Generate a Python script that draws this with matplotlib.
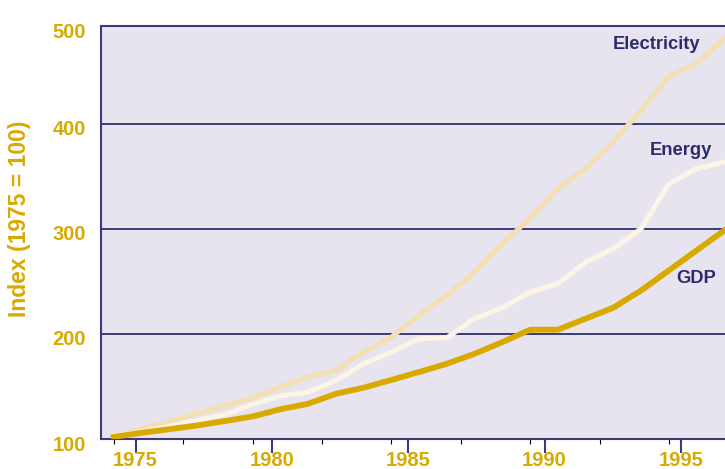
import numpy as np
import matplotlib
matplotlib.use("Agg")
import matplotlib.pyplot as plt
from matplotlib.transforms import ScaledTranslation

# Index values (1975 = 100), one point per year
years = list(range(1975, 1998))
gdp = [102, 105.9, 109.3, 112.9, 117.1, 121.4, 128.3, 133.5, 143, 148.8, 156.2, 163.8,
       171.6, 181.1, 192.2, 204, 204, 214.5, 225, 241.4, 260.5, 279.5, 298.6]
electricity = [103, 110, 116.7, 124.3, 131.4, 139, 149.3, 158.9, 165.2, 182.7, 197, 217.6,
               236.7, 258.9, 286, 310, 338.3, 357.3, 382.9, 412.9, 445.2, 457.3, 481.1]
energy = [103, 107, 112, 117.6, 123.3, 132.9, 141, 144.6, 155.7, 171.6, 182.7, 195.4,
          196.4, 214.5, 225, 239.8, 247.8, 268.4, 281.1, 300.2, 343, 357.3, 363.6]

tick_years = [1975, 1980, 1985, 1990, 1995]
y_ticks = [100, 200, 300, 400, 493]
y_labels = ["100", "200", "300", "400", "500"]

gold = "#D8AA00"
navy = "#2C2C6C"
grid_col = "#3A3B78"

fig = plt.figure(figsize=(7.25, 4.69), dpi=100)
ax = fig.add_axes([101 / 725, 1 - 439 / 469, 624 / 725, 413 / 469])
ax.set_facecolor("#E7E4EF")

ax.plot(years, electricity, color="#F3DFB3", lw=3.6, zorder=3)
ax.plot(years, energy, color="#FBF4E7", lw=3.6, zorder=4)
ax.plot(years, gdp, color=gold, lw=4.2, zorder=5)

ax.set_xlim(1974.54, 1997.02)
ax.set_ylim(100, 493)
ax.tick_params(axis="x", bottom=False, labelbottom=False)

ax.set_yticks(y_ticks)
ax.set_yticklabels(y_labels)
ax.tick_params(axis="y", length=0, pad=11, labelcolor=gold, labelsize=14.5)
for lbl in ax.get_yticklabels():
    lbl.set_fontweight("bold")
    lbl.set_fontfamily("Liberation Sans")
    lbl.set_transform(lbl.get_transform() + ScaledTranslation(0, -4 / 100, fig.dpi_scale_trans))
ax.grid(axis="y", color=grid_col, lw=1.4, zorder=1)
ax.set_axisbelow(True)

for side in ["left", "bottom", "top"]:
    ax.spines[side].set_color(grid_col)
    ax.spines[side].set_linewidth(1.5)
ax.spines["right"].set_visible(False)

# year ticks on their own scale
ax2 = ax.twiny()
ax2.set_xlim(1973.73, 1996.62)
ax2.xaxis.set_ticks_position("bottom")
ax2.set_xticks(tick_years)
ax2.tick_params(axis="x", length=10, width=1.5, color=grid_col, pad=-1.5,
                labelcolor=gold, labelsize=14.5)
for lbl in ax2.get_xticklabels():
    lbl.set_fontweight("bold")
    lbl.set_fontfamily("Liberation Sans")
for s in ax2.spines.values():
    s.set_visible(False)

lab_font = dict(color=navy, fontsize=13.2, fontweight="bold", family="Liberation Sans",
                transform=ax.transAxes, va="baseline", ha="left", zorder=6)
ax.text(0.8205, 0.944, "Electricity", **lab_font)
ax.text(0.8798, 0.6877, "Energy", **lab_font)
ax.text(0.9226, 0.3777, "GDP", **lab_font)

fig.text(20 / 725, 1 - 219 / 469, "Index (1975 = 100)", rotation=90, ha="center",
         va="center", color=gold, fontsize=16.5, fontweight="bold",
         family="Liberation Sans")

fig.savefig("out.png", dpi=100)
